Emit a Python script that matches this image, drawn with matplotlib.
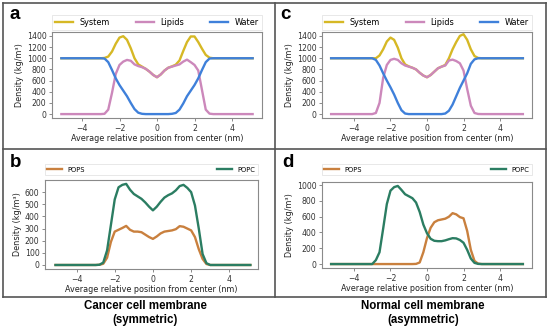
import matplotlib
matplotlib.use("Agg")
import matplotlib.pyplot as plt
from matplotlib.lines import Line2D

# ---------------- data ----------------
grid = [-3.0, -2.8, -2.6, -2.4, -2.2, -2.0, -1.8, -1.6, -1.4, -1.2, -1.0, -0.8, -0.6, -0.4, -0.2,
        0.0, 0.2, 0.4, 0.6, 0.8, 1.0, 1.2, 1.4, 1.6, 1.8, 2.0, 2.2, 2.4, 2.6, 2.8, 3.0]
x_sym = [-5.1, -3.2] + grid + [3.2, 5.1]
x_asym = [-5.25, -3.2] + grid + [3.2, 5.25]

# panel a (symmetric, cancer)
a_system = [1000, 1000, 1000, 1005, 1030, 1120, 1260, 1370, 1395, 1330, 1180, 1000, 890, 850, 810, 760, 700,
            660, 710, 780, 830, 855, 885, 960, 1130, 1290, 1390, 1390, 1290, 1170, 1060, 1010, 1000, 1000, 1000]
a_lipids = [0, 0, 0, 5, 80, 380, 720, 880, 940, 970, 955, 890, 860, 840, 810, 760, 700,
            660, 710, 780, 830, 850, 870, 890, 940, 975, 930, 880, 780, 430, 80, 8, 0, 0, 0]
a_water = [1000, 1000, 1000, 995, 930, 790, 640, 520, 420, 320, 200, 90, 25, 5, 0, 0, 0,
           0, 0, 0, 0, 5, 20, 80, 190, 320, 420, 520, 640, 790, 930, 995, 1000, 1000, 1000]

# panel c (asymmetric, normal)
c_system = [1000, 1000, 1000, 1000, 1050, 1160, 1300, 1370, 1330, 1190, 1000, 890, 855, 830, 800, 740, 690,
            660, 700, 760, 820, 850, 880, 1000, 1160, 1290, 1400, 1430, 1330, 1160, 1040, 1005, 1000, 1000, 1000]
c_lipids = [0, 0, 0, 20, 200, 650, 880, 970, 990, 970, 910, 870, 850, 830, 800, 740, 690,
            660, 700, 760, 820, 850, 870, 960, 975, 950, 910, 780, 450, 150, 20, 2, 0, 0, 0]
c_water = [1000, 1000, 1000, 970, 870, 730, 600, 480, 350, 200, 70, 10, 0, 0, 0, 0, 0,
           0, 0, 0, 0, 0, 10, 60, 170, 320, 470, 600, 730, 900, 980, 1000, 1000, 1000, 1000]

# panel b (symmetric, cancer)
b_pops = [0, 0, 0, 2, 10, 60, 190, 275, 290, 305, 322, 290, 275, 275, 270, 250, 230,
          215, 235, 260, 275, 280, 285, 295, 320, 315, 300, 285, 230, 130, 50, 8, 0, 0, 0]
b_popc = [0, 0, 0, 2, 20, 120, 330, 540, 640, 660, 668, 620, 585, 565, 545, 515, 480,
          450, 480, 520, 555, 575, 590, 615, 650, 660, 635, 600, 490, 300, 90, 15, 0, 0, 0]

# panel d (asymmetric, normal)
d_pops = [0, 0, 0, 0, 0, 0, 0, 0, 0, 0, 0, 0, 0, 0, 2, 20, 150,
          330, 460, 530, 555, 565, 575, 600, 645, 630, 595, 580, 420, 180, 40, 5, 0, 0, 0]
d_popc = [0, 0, 0, 50, 150, 450, 760, 930, 975, 990, 940, 885, 860, 835, 780, 660, 500,
          390, 320, 295, 290, 290, 300, 315, 328, 325, 305, 270, 180, 70, 15, 2, 0, 0, 0]

sys_labels = ["System", "Lipids", "Water"]
lip_labels = ["POPS", "POPC"]
xticks = [-4, -2, 0, 2, 4]
yticks_ac = [0, 200, 400, 600, 800, 1000, 1200, 1400]
yticks_b = [0, 100, 200, 300, 400, 500, 600]
yticks_d = [0, 200, 400, 600, 800, 1000]
panel_letters = ["a", "b", "c", "d"]
bottom_titles = ["Cancer cell membrane\n(symmetric)", "Normal cell membrane\n(asymmetric)"]
xlabel = "Average relative position from center (nm)"
ylabel = "Density (kg/m³)"

c_sys, c_lip, c_wat = "#d6b825", "#cc88bb", "#3f80da"
c_pops, c_popc = "#c9803e", "#2b7d62"

# ---------------- figure ----------------
W, H = 550, 330
fig = plt.figure(figsize=(W / 100, H / 100), dpi=100)
fig.patch.set_facecolor("white")
plt.rcParams['font.family'] = ['DejaVu Sans']


def add_ax(l, r, t, b):
    return fig.add_axes([l / W, 1 - b / H, (r - l) / W, (b - t) / H])


def style(ax, yt):
    for s in ax.spines.values():
        s.set_color("#8a8a8a")
        s.set_linewidth(0.8)
    ax.tick_params(axis="both", labelsize=5.6, colors="#333333", length=2.5, width=0.6, pad=1.5)
    ax.tick_params(axis="both", color="#777777")
    ax.set_xticks(xticks)
    ax.set_xticklabels([str(t).replace("-", "\u2212") for t in xticks])
    ax.set_yticks(yt)
    ax.set_xlabel(xlabel, fontsize=5.8, color="#222222", labelpad=1)
    ax.set_ylabel(ylabel, fontsize=5.9, color="#222222", labelpad=2)


lw = 1.7
# panel a
ax_a = add_ax(52, 262, 32, 118)
ax_a.plot(x_sym, a_system, color=c_sys, lw=lw, label=sys_labels[0])
ax_a.plot(x_sym, a_lipids, color=c_lip, lw=lw, label=sys_labels[1])
ax_a.plot(x_sym, a_water, color=c_wat, lw=lw, label=sys_labels[2])
style(ax_a, yticks_ac)
ax_a.set_ylim(-70, 1470)
ax_a.set_xlim(-5.6, 5.6)

# panel c
ax_c = add_ax(322, 532, 32, 118)
ax_c.plot(x_asym, c_system, color=c_sys, lw=lw, label=sys_labels[0])
ax_c.plot(x_asym, c_lipids, color=c_lip, lw=lw, label=sys_labels[1])
ax_c.plot(x_asym, c_water, color=c_wat, lw=lw, label=sys_labels[2])
style(ax_c, yticks_ac)
ax_c.set_ylim(-70, 1470)
ax_c.set_xlim(-5.75, 5.75)

# panel b
ax_b = add_ax(45, 258, 180, 269)
ax_b.plot(x_sym, b_pops, color=c_pops, lw=lw, label=lip_labels[0])
ax_b.plot(x_sym, b_popc, color=c_popc, lw=lw, label=lip_labels[1])
style(ax_b, yticks_b)
ax_b.set_ylim(-33, 700)
ax_b.set_xlim(-5.65, 5.5)

# panel d
ax_d = add_ax(322, 532, 182, 268)
ax_d.plot(x_asym, d_pops, color=c_pops, lw=lw, label=lip_labels[0])
ax_d.plot(x_asym, d_popc, color=c_popc, lw=lw, label=lip_labels[1])
style(ax_d, yticks_d)
ax_d.set_ylim(-50, 1040)
ax_d.set_xlim(-5.75, 5.75)

# legends
for ax, ncol, fs, gap, h in [(ax_a, 3, 5.9, 0.025, 0.175), (ax_c, 3, 5.9, 0.025, 0.175),
                             (ax_b, 2, 4.9, 0.055, 0.135), (ax_d, 2, 4.9, 0.08, 0.12)]:
    leg = ax.legend(loc="lower left", bbox_to_anchor=(0, 1 + gap, 1, h), mode="expand", ncol=ncol,
                    borderaxespad=0, fontsize=fs, frameon=True, fancybox=False,
                    handlelength=2.2, handletextpad=0.8, borderpad=0.35)
    leg.get_frame().set_edgecolor("#dddddd")
    leg.get_frame().set_linewidth(0.6)

# panel letters
for letter, (px, py) in zip(panel_letters, [(10, 19), (10, 167), (280, 19), (282, 167)]):
    fig.text(px / W, 1 - py / H, letter, fontsize=13.5, fontweight="bold", family="Liberation Sans",
             va="baseline", ha="left")

# bottom titles
for txt, cx in zip(bottom_titles, [145, 423]):
    fig.text(cx / W, 1 - 313 / H, txt, fontsize=8.3, fontweight="bold", family="Liberation Sans",
             ha="center", va="center", linespacing=1.15)

# frame lines
fc = "#555555"
flw = 1.2
def fline(x0, y0, x1, y1):
    fig.add_artist(Line2D([x0 / W, x1 / W], [1 - y0 / H, 1 - y1 / H], color=fc, lw=flw))

fline(3, 3, 546, 3)
fline(3, 297, 546, 297)
fline(3, 3, 3, 297)
fline(546, 3, 546, 297)
fline(275, 3, 275, 297)
fline(3, 149, 546, 149)

fig.savefig("out.png", dpi=100, facecolor="white")
